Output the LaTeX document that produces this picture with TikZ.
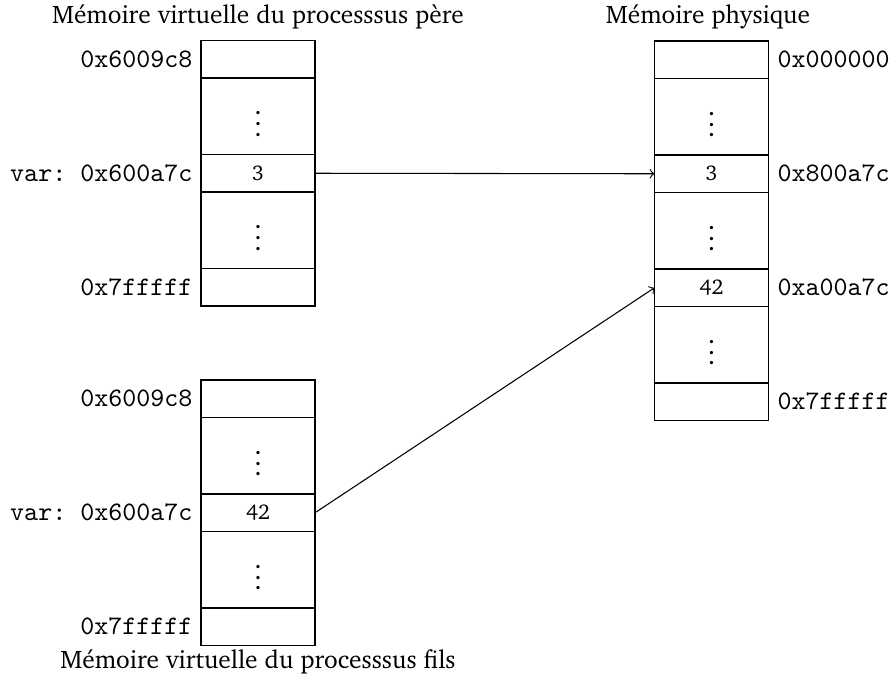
\documentclass[tikz,border=0pt]{standalone}
\usepackage[T1]{fontenc}
\usepackage{charter}
\newcommand{\addrfont}{\fontencoding{TU}\fontfamily{lmtt}\selectfont\frenchspacing}
\begin{document}
\begin{tikzpicture}[x=0.3745pt,y=-0.3745pt,
  cellshort/.style={draw,rectangle,minimum width=42.7pt,minimum height=14.04pt,inner sep=0pt,outer sep=0pt,line width=0.5pt,font=\footnotesize},
  celltall/.style={draw,rectangle,minimum width=42.7pt,minimum height=28.65pt,inner sep=0pt,outer sep=0pt,line width=0.5pt},
  addrl/.style={anchor=east,inner sep=0pt,font=\addrfont},
  addrr/.style={anchor=west,inner sep=0pt,font=\addrfont},
  ttl/.style={inner sep=0pt,font=\fontsize{9.5pt}{11pt}\selectfont},
  link/.style={->,line width=0.4pt}]
\useasboundingbox (0,0) rectangle (893,680);
% top-left column (pere)
\node[cellshort] (p1) at (258,59.25) {};
\node[celltall]  (p2) at (258,116.25) {$\vdots$};
\node[cellshort] (p3) at (258,173.25) {3};
\node[celltall]  (p4) at (258,230.25) {$\vdots$};
\node[cellshort] (p5) at (258,287.25) {};
\node[addrl] (lp1) at (193,59.25) {0x6009c8};
\node[addrl] (lp3) at (193,173.25) {var: 0x600a7c};
\node[addrl] (lp5) at (193,287.25) {0x7fffff};
\node[ttl] (tp) at (258,17) {Mémoire virtuelle du processsus père};
% bottom-left column (fils)
\node[cellshort] (f1) at (258,398.75) {};
\node[celltall]  (f2) at (258,455.75) {$\vdots$};
\node[cellshort] (f3) at (258,512.75) {42};
\node[celltall]  (f4) at (258,569.75) {$\vdots$};
\node[cellshort] (f5) at (258,626.75) {};
\node[addrl] (lf1) at (193,398.75) {0x6009c8};
\node[addrl] (lf3) at (193,512.75) {var: 0x600a7c};
\node[addrl] (lf5) at (193,626.75) {0x7fffff};
\node[ttl] (tf) at (258,662) {Mémoire virtuelle du processsus fils};
% right column (physique)
\node[cellshort] (m1) at (711.5,59.75) {};
\node[celltall]  (m2) at (711.5,116.75) {$\vdots$};
\node[cellshort] (m3) at (711.5,173.75) {3};
\node[celltall]  (m4) at (711.5,230.75) {$\vdots$};
\node[cellshort] (m5) at (711.5,287.75) {42};
\node[celltall]  (m6) at (711.5,344.75) {$\vdots$};
\node[cellshort] (m7) at (711.5,401.75) {};
\node[addrr] (lm1) at (777,59.75) {0x000000};
\node[addrr] (lm3) at (777,173.75) {0x800a7c};
\node[addrr] (lm5) at (777,287.75) {0xa00a7c};
\node[addrr] (lm7) at (777,401.75) {0x7fffff};
\node[ttl] (tm) at (708,17) {Mémoire physique};
% links
\draw[link] (p3.east) -- (m3.west);
\draw[link] (f3.east) -- (m5.west);
\end{tikzpicture}
\end{document}
